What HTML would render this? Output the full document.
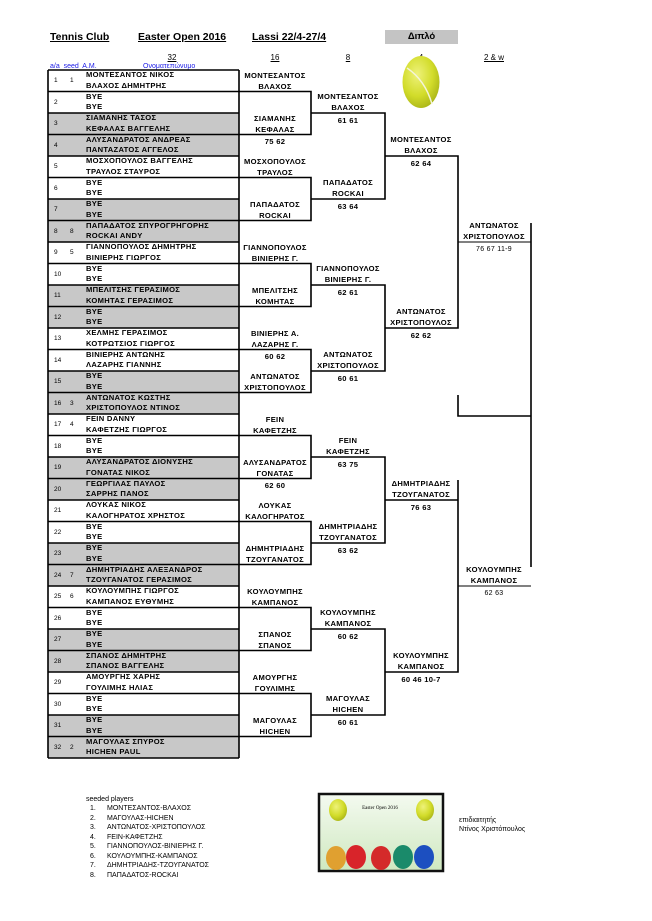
<!DOCTYPE html>
<html><head><meta charset="utf-8">
<style>
body{margin:0;width:652px;height:921px;background:#fff;position:relative;overflow:hidden;font-family:"Liberation Sans","DejaVu Sans",sans-serif;}
.a{position:absolute;white-space:nowrap;}
.h{font-weight:bold;font-size:10.5px;text-decoration:underline;top:31px;}
.ch{font-size:8px;text-decoration:underline;top:53px;width:40px;text-align:center;}
.bl{color:#1a1ae6;font-size:7px;top:63px;}
.r{position:absolute;left:48px;width:191px;height:21.5px;}
.g{background:#c8c8c8;}
.r .n{position:absolute;left:6px;top:7px;font-size:6.5px;}
.r .s{position:absolute;left:22px;top:7px;font-size:6.5px;}
.r .t{position:absolute;left:38px;top:0px;font-size:7.6px;font-weight:bold;line-height:10.5px;letter-spacing:0.3px;}
.e{position:absolute;width:74px;text-align:center;font-size:7.6px;font-weight:bold;line-height:11px;letter-spacing:0.3px;}
.c16{left:238px}.c8{left:311px}.c4{left:384px}.c2{left:457px}
.sl{font-size:7px;left:107px;}
.sn{font-size:7px;left:90px;}
</style></head><body>
<div class="a h" style="left:50px">Tennis Club</div>
<div class="a h" style="left:138px">Easter Open 2016</div>
<div class="a h" style="left:252px">Lassi 22/4-27/4</div>
<div class="a" style="left:385px;top:30px;width:73px;height:14px;background:#c4c4c4;font-weight:bold;font-size:9.5px;text-align:center;line-height:14px;">Διπλό</div>
<div class="a ch" style="left:152px">32</div>
<div class="a ch" style="left:255px">16</div>
<div class="a ch" style="left:328px">8</div>
<div class="a ch" style="left:401px">4</div>
<div class="a ch" style="left:474px">2 &amp; w</div>
<div class="a bl" style="left:50px">a/a&nbsp; seed&nbsp; A.M.</div>
<div class="a bl" style="left:143px">Ονοματεπώνυμο</div>

<div class="r" style="top:70px"><span class="n">1</span><span class="s">1</span><span class="t">ΜΟΝΤΕΣΑΝΤΟΣ ΝΙΚΟΣ<br>ΒΛΑΧΟΣ ΔΗΜΗΤΡΗΣ</span></div>
<div class="r" style="top:91.5px"><span class="n">2</span><span class="t">BYE<br>BYE</span></div>
<div class="r g" style="top:113px"><span class="n">3</span><span class="t">ΣΙΑΜΑΝΗΣ ΤΑΣΟΣ<br>ΚΕΦΑΛΑΣ ΒΑΓΓΕΛΗΣ</span></div>
<div class="r g" style="top:134.5px"><span class="n">4</span><span class="t">ΑΛΥΣΑΝΔΡΑΤΟΣ ΑΝΔΡΕΑΣ<br>ΠΑΝΤΑΖΑΤΟΣ ΑΓΓΕΛΟΣ</span></div>
<div class="r" style="top:156px"><span class="n">5</span><span class="t">ΜΟΣΧΟΠΟΥΛΟΣ ΒΑΓΓΕΛΗΣ<br>ΤΡΑΥΛΟΣ ΣΤΑΥΡΟΣ</span></div>
<div class="r" style="top:177.5px"><span class="n">6</span><span class="t">BYE<br>BYE</span></div>
<div class="r g" style="top:199px"><span class="n">7</span><span class="t">BYE<br>BYE</span></div>
<div class="r g" style="top:220.5px"><span class="n">8</span><span class="s">8</span><span class="t">ΠΑΠΑΔΑΤΟΣ ΣΠΥΡΟΓΡΗΓΟΡΗΣ<br>ROCKAI ANDY</span></div>
<div class="r" style="top:242px"><span class="n">9</span><span class="s">5</span><span class="t">ΓΙΑΝΝΟΠΟΥΛΟΣ ΔΗΜΗΤΡΗΣ<br>ΒΙΝΙΕΡΗΣ ΓΙΩΡΓΟΣ</span></div>
<div class="r" style="top:263.5px"><span class="n">10</span><span class="t">BYE<br>BYE</span></div>
<div class="r g" style="top:285px"><span class="n">11</span><span class="t">ΜΠΕΛΙΤΣΗΣ ΓΕΡΑΣΙΜΟΣ<br>ΚΟΜΗΤΑΣ ΓΕΡΑΣΙΜΟΣ</span></div>
<div class="r g" style="top:306.5px"><span class="n">12</span><span class="t">BYE<br>BYE</span></div>
<div class="r" style="top:328px"><span class="n">13</span><span class="t">ΧΕΛΜΗΣ ΓΕΡΑΣΙΜΟΣ<br>ΚΟΤΡΩΤΣΙΟΣ ΓΙΩΡΓΟΣ</span></div>
<div class="r" style="top:349.5px"><span class="n">14</span><span class="t">ΒΙΝΙΕΡΗΣ ΑΝΤΩΝΗΣ<br>ΛΑΖΑΡΗΣ ΓΙΑΝΝΗΣ</span></div>
<div class="r g" style="top:371px"><span class="n">15</span><span class="t">BYE<br>BYE</span></div>
<div class="r g" style="top:392.5px"><span class="n">16</span><span class="s">3</span><span class="t">ΑΝΤΩΝΑΤΟΣ ΚΩΣΤΗΣ<br>ΧΡΙΣΤΟΠΟΥΛΟΣ ΝΤΙΝΟΣ</span></div>
<div class="r" style="top:414px"><span class="n">17</span><span class="s">4</span><span class="t">FEIN DANNY<br>ΚΑΦΕΤΖΗΣ ΓΙΩΡΓΟΣ</span></div>
<div class="r" style="top:435.5px"><span class="n">18</span><span class="t">BYE<br>BYE</span></div>
<div class="r g" style="top:457px"><span class="n">19</span><span class="t">ΑΛΥΣΑΝΔΡΑΤΟΣ ΔΙΟΝΥΣΗΣ<br>ΓΟΝΑΤΑΣ ΝΙΚΟΣ</span></div>
<div class="r g" style="top:478.5px"><span class="n">20</span><span class="t">ΓΕΩΡΓΙΛΑΣ ΠΑΥΛΟΣ<br>ΣΑΡΡΗΣ ΠΑΝΟΣ</span></div>
<div class="r" style="top:500px"><span class="n">21</span><span class="t">ΛΟΥΚΑΣ ΝΙΚΟΣ<br>ΚΑΛΟΓΗΡΑΤΟΣ ΧΡΗΣΤΟΣ</span></div>
<div class="r" style="top:521.5px"><span class="n">22</span><span class="t">BYE<br>BYE</span></div>
<div class="r g" style="top:543px"><span class="n">23</span><span class="t">BYE<br>BYE</span></div>
<div class="r g" style="top:564.5px"><span class="n">24</span><span class="s">7</span><span class="t">ΔΗΜΗΤΡΙΑΔΗΣ ΑΛΕΞΑΝΔΡΟΣ<br>ΤΖΟΥΓΑΝΑΤΟΣ ΓΕΡΑΣΙΜΟΣ</span></div>
<div class="r" style="top:586px"><span class="n">25</span><span class="s">6</span><span class="t">ΚΟΥΛΟΥΜΠΗΣ ΓΙΩΡΓΟΣ<br>ΚΑΜΠΑΝΟΣ ΕΥΘΥΜΗΣ</span></div>
<div class="r" style="top:607.5px"><span class="n">26</span><span class="t">BYE<br>BYE</span></div>
<div class="r g" style="top:629px"><span class="n">27</span><span class="t">BYE<br>BYE</span></div>
<div class="r g" style="top:650.5px"><span class="n">28</span><span class="t">ΣΠΑΝΟΣ ΔΗΜΗΤΡΗΣ<br>ΣΠΑΝΟΣ ΒΑΓΓΕΛΗΣ</span></div>
<div class="r" style="top:672px"><span class="n">29</span><span class="t">ΑΜΟΥΡΓΗΣ ΧΑΡΗΣ<br>ΓΟΥΛΙΜΗΣ ΗΛΙΑΣ</span></div>
<div class="r" style="top:693.5px"><span class="n">30</span><span class="t">BYE<br>BYE</span></div>
<div class="r g" style="top:715px"><span class="n">31</span><span class="t">BYE<br>BYE</span></div>
<div class="r g" style="top:736.5px"><span class="n">32</span><span class="s">2</span><span class="t">ΜΑΓΟΥΛΑΣ ΣΠΥΡΟΣ<br>HICHEN PAUL</span></div>

<svg class="a" style="left:0;top:0" width="652" height="921">
<defs><radialGradient id="bg" cx="40%" cy="35%" r="70%"><stop offset="0" stop-color="#eef27a"/><stop offset="0.6" stop-color="#d2dc2a"/><stop offset="1" stop-color="#a9b417"/></radialGradient>
<linearGradient id="pg" x1="0" y1="0" x2="0" y2="1"><stop offset="0" stop-color="#f4faf0"/><stop offset="1" stop-color="#cfe8c0"/></linearGradient></defs>
<g stroke="#000" stroke-width="1.6" fill="none">
<path d="M48 70H239M48 91.5H239M48 113H239M48 134.5H239M48 156H239M48 177.5H239M48 199H239M48 220.5H239M48 242H239M48 263.5H239M48 285H239M48 306.5H239M48 328H239M48 349.5H239M48 371H239M48 392.5H239M48 414H239M48 435.5H239M48 457H239M48 478.5H239M48 500H239M48 521.5H239M48 543H239M48 564.5H239M48 586H239M48 607.5H239M48 629H239M48 650.5H239M48 672H239M48 693.5H239M48 715H239M48 736.5H239M48 758H239M48 70V758M239 70V758"/>
<path d="M239 91.5H311V134.5H239M239 177.5H311V220.5H239M239 263.5H311V306.5H239M239 349.5H311V392.5H239M239 435.5H311V478.5H239M239 521.5H311V564.5H239M239 607.5H311V650.5H239M239 693.5H311V736.5H239"/>
<path d="M311 113H385V199H311M311 285H385V371H311M311 457H385V543H311M311 629H385V715H311"/>
<path d="M385 156H458V328H385M385 500H458M458 480V672H385M458 395V416H531M531 223V567"/>
</g>
<path d="M458 242H531M458 586H531" stroke="#000" stroke-width="1"/>
<ellipse cx="421" cy="82" rx="18.5" ry="26" fill="url(#bg)"/>
<path d="M407 68Q425 80 432 104" stroke="#f4f4d8" stroke-width="1.5" fill="none"/>
<rect x="319" y="794" width="124" height="77" fill="url(#pg)" stroke="#111" stroke-width="2.5"/>
<ellipse cx="338" cy="810" rx="9" ry="11" fill="url(#bg)"/><ellipse cx="425" cy="810" rx="9" ry="11" fill="url(#bg)"/>
<ellipse cx="336" cy="858" rx="10" ry="12" fill="#e0a030"/><ellipse cx="356" cy="857" rx="10" ry="12" fill="#d8242a"/><ellipse cx="381" cy="858" rx="10" ry="12" fill="#d42a2a"/><ellipse cx="403" cy="857" rx="10" ry="12" fill="#1a8a6a"/><ellipse cx="424" cy="857" rx="10" ry="12" fill="#1c4fc0"/>
<text x="380" y="809" font-size="5" text-anchor="middle" font-family="Liberation Serif">Easter Open 2016</text>
</svg>

<div class="e c16" style="top:69.5px">ΜΟΝΤΕΣΑΝΤΟΣ<br>ΒΛΑΧΟΣ</div>
<div class="e c16" style="top:112.5px">ΣΙΑΜΑΝΗΣ<br>ΚΕΦΑΛΑΣ</div><div class="e c16" style="top:136px">75 62</div>
<div class="e c16" style="top:155.5px">ΜΟΣΧΟΠΟΥΛΟΣ<br>ΤΡΑΥΛΟΣ</div>
<div class="e c16" style="top:198.5px">ΠΑΠΑΔΑΤΟΣ<br>ROCKAI</div>
<div class="e c16" style="top:241.5px">ΓΙΑΝΝΟΠΟΥΛΟΣ<br>ΒΙΝΙΕΡΗΣ Γ.</div>
<div class="e c16" style="top:284.5px">ΜΠΕΛΙΤΣΗΣ<br>ΚΟΜΗΤΑΣ</div>
<div class="e c16" style="top:327.5px">ΒΙΝΙΕΡΗΣ Α.<br>ΛΑΖΑΡΗΣ Γ.</div><div class="e c16" style="top:351px">60 62</div>
<div class="e c16" style="top:370.5px">ΑΝΤΩΝΑΤΟΣ<br>ΧΡΙΣΤΟΠΟΥΛΟΣ</div>
<div class="e c16" style="top:413.5px">FEIN<br>ΚΑΦΕΤΖΗΣ</div>
<div class="e c16" style="top:456.5px">ΑΛΥΣΑΝΔΡΑΤΟΣ<br>ΓΟΝΑΤΑΣ</div><div class="e c16" style="top:480px">62 60</div>
<div class="e c16" style="top:499.5px">ΛΟΥΚΑΣ<br>ΚΑΛΟΓΗΡΑΤΟΣ</div>
<div class="e c16" style="top:542.5px">ΔΗΜΗΤΡΙΑΔΗΣ<br>ΤΖΟΥΓΑΝΑΤΟΣ</div>
<div class="e c16" style="top:585.5px">ΚΟΥΛΟΥΜΠΗΣ<br>ΚΑΜΠΑΝΟΣ</div>
<div class="e c16" style="top:628.5px">ΣΠΑΝΟΣ<br>ΣΠΑΝΟΣ</div>
<div class="e c16" style="top:671.5px">ΑΜΟΥΡΓΗΣ<br>ΓΟΥΛΙΜΗΣ</div>
<div class="e c16" style="top:714.5px">ΜΑΓΟΥΛΑΣ<br>HICHEN</div>

<div class="e c8" style="top:91px">ΜΟΝΤΕΣΑΝΤΟΣ<br>ΒΛΑΧΟΣ</div><div class="e c8" style="top:114.5px">61 61</div>
<div class="e c8" style="top:177px">ΠΑΠΑΔΑΤΟΣ<br>ROCKAI</div><div class="e c8" style="top:200.5px">63 64</div>
<div class="e c8" style="top:263px">ΓΙΑΝΝΟΠΟΥΛΟΣ<br>ΒΙΝΙΕΡΗΣ Γ.</div><div class="e c8" style="top:286.5px">62 61</div>
<div class="e c8" style="top:349px">ΑΝΤΩΝΑΤΟΣ<br>ΧΡΙΣΤΟΠΟΥΛΟΣ</div><div class="e c8" style="top:372.5px">60 61</div>
<div class="e c8" style="top:435px">FEIN<br>ΚΑΦΕΤΖΗΣ</div><div class="e c8" style="top:458.5px">63 75</div>
<div class="e c8" style="top:521px">ΔΗΜΗΤΡΙΑΔΗΣ<br>ΤΖΟΥΓΑΝΑΤΟΣ</div><div class="e c8" style="top:544.5px">63 62</div>
<div class="e c8" style="top:607px">ΚΟΥΛΟΥΜΠΗΣ<br>ΚΑΜΠΑΝΟΣ</div><div class="e c8" style="top:630.5px">60 62</div>
<div class="e c8" style="top:693px">ΜΑΓΟΥΛΑΣ<br>HICHEN</div><div class="e c8" style="top:716.5px">60 61</div>

<div class="e c4" style="top:134px">ΜΟΝΤΕΣΑΝΤΟΣ<br>ΒΛΑΧΟΣ</div><div class="e c4" style="top:157.5px">62 64</div>
<div class="e c4" style="top:306px">ΑΝΤΩΝΑΤΟΣ<br>ΧΡΙΣΤΟΠΟΥΛΟΣ</div><div class="e c4" style="top:329.5px">62 62</div>
<div class="e c4" style="top:478px">ΔΗΜΗΤΡΙΑΔΗΣ<br>ΤΖΟΥΓΑΝΑΤΟΣ</div><div class="e c4" style="top:501.5px">76 63</div>
<div class="e c4" style="top:650px">ΚΟΥΛΟΥΜΠΗΣ<br>ΚΑΜΠΑΝΟΣ</div><div class="e c4" style="top:673.5px">60 46 10-7</div>

<div class="e c2" style="top:220px">ΑΝΤΩΝΑΤΟΣ<br>ΧΡΙΣΤΟΠΟΥΛΟΣ</div><div class="e c2" style="top:243.5px;font-weight:normal;font-size:7px">76 67 11-9</div>
<div class="e c2" style="top:564px">ΚΟΥΛΟΥΜΠΗΣ<br>ΚΑΜΠΑΝΟΣ</div><div class="e c2" style="top:587.5px;font-weight:normal;font-size:7px">62 63</div>

<div class="a" style="left:86px;top:796px;font-size:7px;">seeded players</div>
<div class="a sn" style="top:805px">1.</div><div class="a sl" style="top:805px">ΜΟΝΤΕΣΑΝΤΟΣ-ΒΛΑΧΟΣ</div>
<div class="a sn" style="top:814.5px">2.</div><div class="a sl" style="top:814.5px">ΜΑΓΟΥΛΑΣ-HICHEN</div>
<div class="a sn" style="top:824px">3.</div><div class="a sl" style="top:824px">ΑΝΤΩΝΑΤΟΣ-ΧΡΙΣΤΟΠΟΥΛΟΣ</div>
<div class="a sn" style="top:833.5px">4.</div><div class="a sl" style="top:833.5px">FEIN-ΚΑΦΕΤΖΗΣ</div>
<div class="a sn" style="top:843px">5.</div><div class="a sl" style="top:843px">ΓΙΑΝΝΟΠΟΥΛΟΣ-ΒΙΝΙΕΡΗΣ Γ.</div>
<div class="a sn" style="top:852.5px">6.</div><div class="a sl" style="top:852.5px">ΚΟΥΛΟΥΜΠΗΣ-ΚΑΜΠΑΝΟΣ</div>
<div class="a sn" style="top:862px">7.</div><div class="a sl" style="top:862px">ΔΗΜΗΤΡΙΑΔΗΣ-ΤΖΟΥΓΑΝΑΤΟΣ</div>
<div class="a sn" style="top:871.5px">8.</div><div class="a sl" style="top:871.5px">ΠΑΠΑΔΑΤΟΣ-ROCKAI</div>
<div class="a" style="left:459px;top:817px;font-size:7px;">επιδιαιτητής</div>
<div class="a" style="left:459px;top:826px;font-size:7px;">Ντίνος Χριστόπουλος</div>
</body></html>
